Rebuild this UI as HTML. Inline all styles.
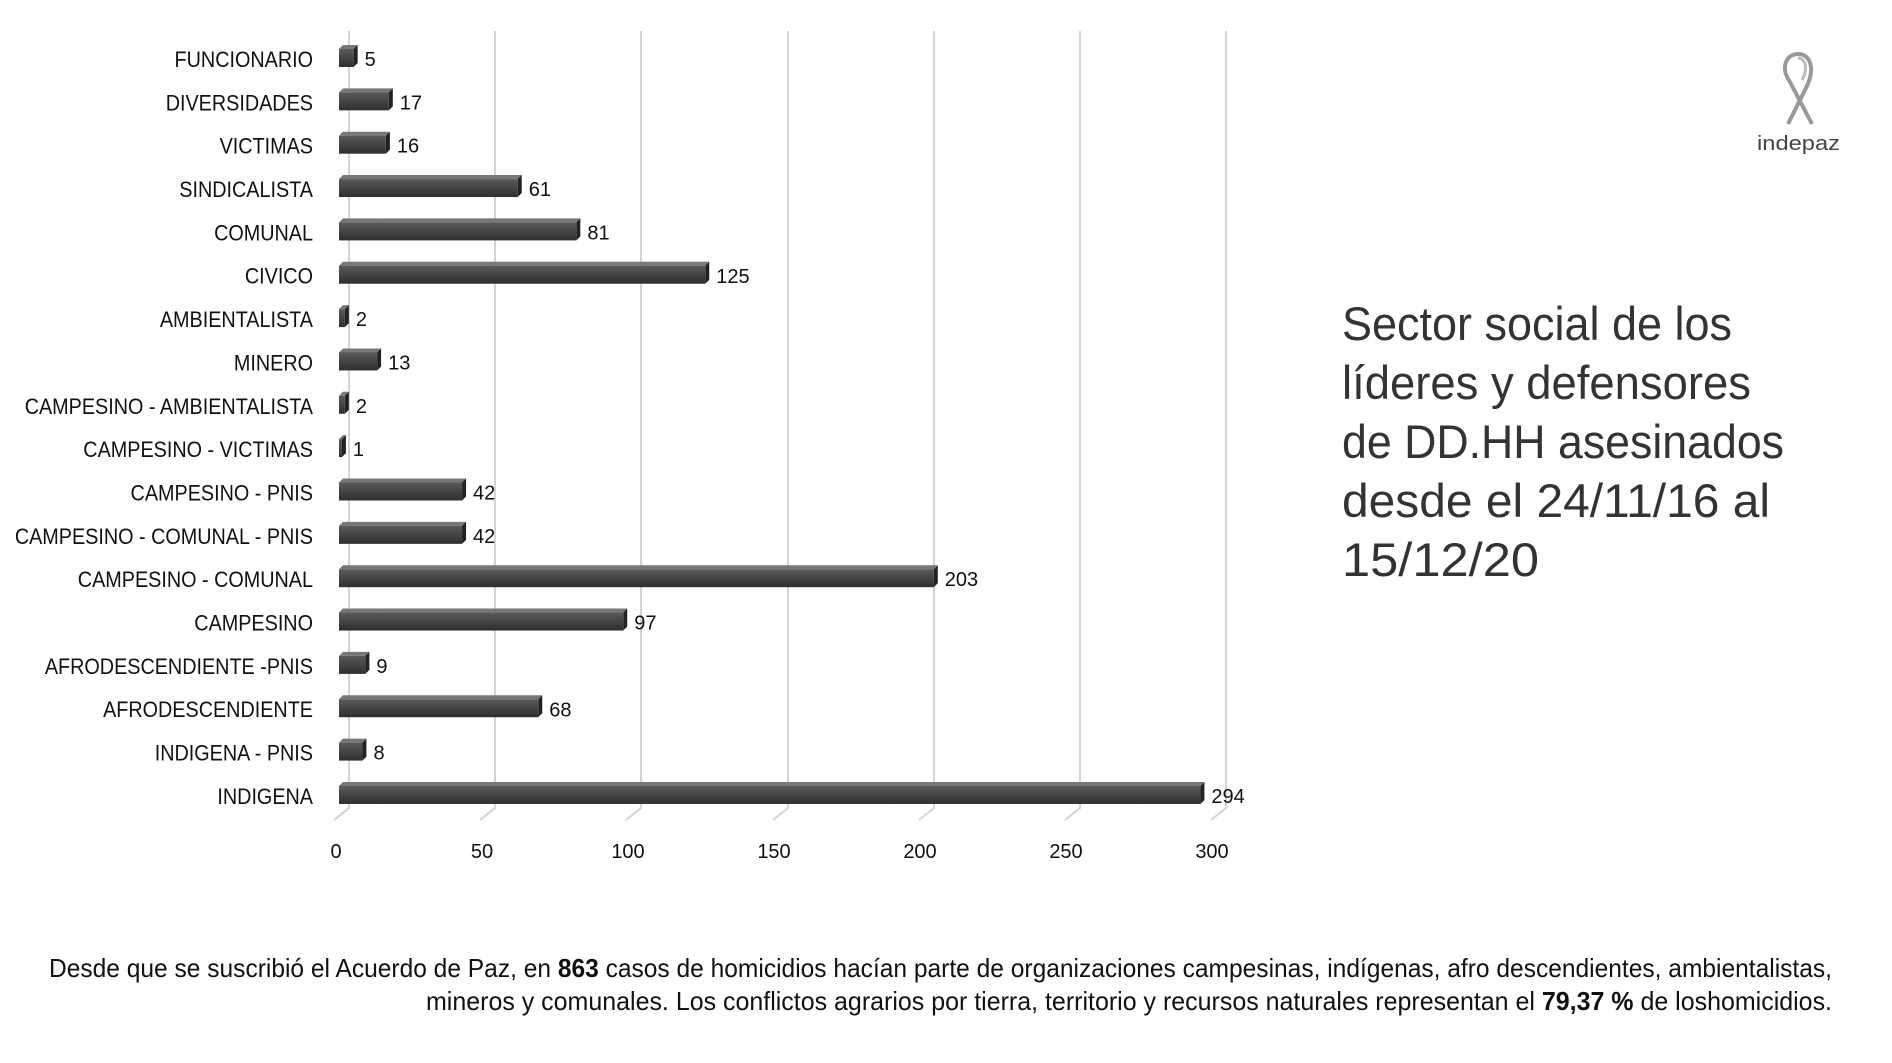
<!DOCTYPE html>
<html><head><meta charset="utf-8"><style>
html,body{margin:0;padding:0;background:#fff;}
svg{display:block;font-family:"Liberation Sans",sans-serif;}
</style></head><body>
<svg width="1892" height="1063" viewBox="0 0 1892 1063" xmlns="http://www.w3.org/2000/svg">
<defs>
<linearGradient id="bf" x1="0" y1="0" x2="0" y2="1">
<stop offset="0" stop-color="#5a5a5a"/><stop offset="0.5" stop-color="#444"/><stop offset="1" stop-color="#2e2e2e"/>
</linearGradient>
</defs>
<g stroke="#d4d4d4" stroke-width="2" fill="none">
<path d="M349 31V808L334 820"/><path d="M495 31V808L480 820"/><path d="M641 31V808L626 820"/>
<path d="M788 31V808L773 820"/><path d="M934 31V808L919 820"/><path d="M1080 31V808L1065 820"/>
<path d="M1226 31V808L1211 820"/>
</g>
<g id="bars"></g>
<g font-size="20" fill="#111" text-anchor="middle">
<text x="336" y="858">0</text><text x="482" y="858">50</text><text x="628" y="858">100</text>
<text x="774" y="858">150</text><text x="920" y="858">200</text><text x="1066" y="858">250</text><text x="1212" y="858">300</text>
</g>
<g fill="#333" font-size="47">
<text x="1342" y="340" textLength="390" lengthAdjust="spacingAndGlyphs">Sector social de los</text>
<text x="1342" y="399" textLength="409" lengthAdjust="spacingAndGlyphs">líderes y defensores</text>
<text x="1342" y="458" textLength="442" lengthAdjust="spacingAndGlyphs">de DD.HH asesinados</text>
<text x="1342" y="517" textLength="428" lengthAdjust="spacingAndGlyphs">desde el 24/11/16 al</text>
<text x="1342" y="576" textLength="197" lengthAdjust="spacingAndGlyphs">15/12/20</text>
</g>
<g transform="translate(1778,52)" fill="none" stroke="#888" stroke-width="4">
<path d="M10 72 L28 36 C38 16 32 2 20 2 C8 2 2 16 12 30 L34 72" stroke="#999"/>
<path d="M20 6 C28 6 30 18 24 28" stroke="#bbb" stroke-width="3"/>
</g>
<text x="1757" y="150" font-size="20" fill="#444" textLength="83" lengthAdjust="spacingAndGlyphs">indepaz</text>
<g font-size="26" fill="#111">
<text x="49" y="977" textLength="1783" lengthAdjust="spacingAndGlyphs">Desde que se suscribió el Acuerdo de Paz, en <tspan font-weight="bold">863</tspan> casos de homicidios hacían parte de organizaciones campesinas, indígenas,  afro descendientes, ambientalistas,</text>
<text x="426" y="1010" textLength="1406" lengthAdjust="spacingAndGlyphs">mineros y comunales. Los conflictos agrarios por tierra, territorio y recursos naturales representan  el <tspan font-weight="bold">79,37 %</tspan>  de loshomicidios.</text>
</g>
<g id="labels" font-size="22" fill="#111" text-anchor="end"></g>
</svg>
<script>
var d=[["FUNCIONARIO",5],["DIVERSIDADES",17],["VICTIMAS",16],["SINDICALISTA",61],["COMUNAL",81],["CIVICO ",125],["AMBIENTALISTA",2],["MINERO",13],["CAMPESINO - AMBIENTALISTA",2],["CAMPESINO - VICTIMAS",1],["CAMPESINO - PNIS",42],["CAMPESINO - COMUNAL - PNIS",42],["CAMPESINO - COMUNAL",203],["CAMPESINO ",97],["AFRODESCENDIENTE -PNIS",9],["AFRODESCENDIENTE ",68],["INDIGENA - PNIS",8],["INDIGENA",294]];
var ns="http://www.w3.org/2000/svg",b=document.getElementById("bars"),l=document.getElementById("labels");
d.forEach(function(r,i){
 var cy=58+i*43.35,w=r[1]*2.93,x=339,t=cy-9,h=18;
 var g='<polygon points="'+x+','+t+' '+(x+4)+','+(t-4)+' '+(x+w+4)+','+(t-4)+' '+(x+w)+','+t+'" fill="#777"/>'+
 '<polygon points="'+(x+w)+','+t+' '+(x+w+4)+','+(t-4)+' '+(x+w+4)+','+(t+h-4)+' '+(x+w)+','+(t+h)+'" fill="#222"/>'+
 '<rect x="'+x+'" y="'+t+'" width="'+w+'" height="'+h+'" fill="url(#bf)"/>'+
 '<text x="'+(x+w+11)+'" y="'+(cy+8)+'" font-size="20" fill="#111">'+r[1]+'</text>';
 b.insertAdjacentHTML("beforeend",g);
 var tx=document.createElementNS(ns,"text");tx.setAttribute("x",313);tx.setAttribute("y",cy+9);
 tx.textContent=r[0].trim();
 tx.setAttribute("transform","translate(313,0) scale(0.9,1) translate(-313,0)");
 l.appendChild(tx);
});
</script>
</body></html>
